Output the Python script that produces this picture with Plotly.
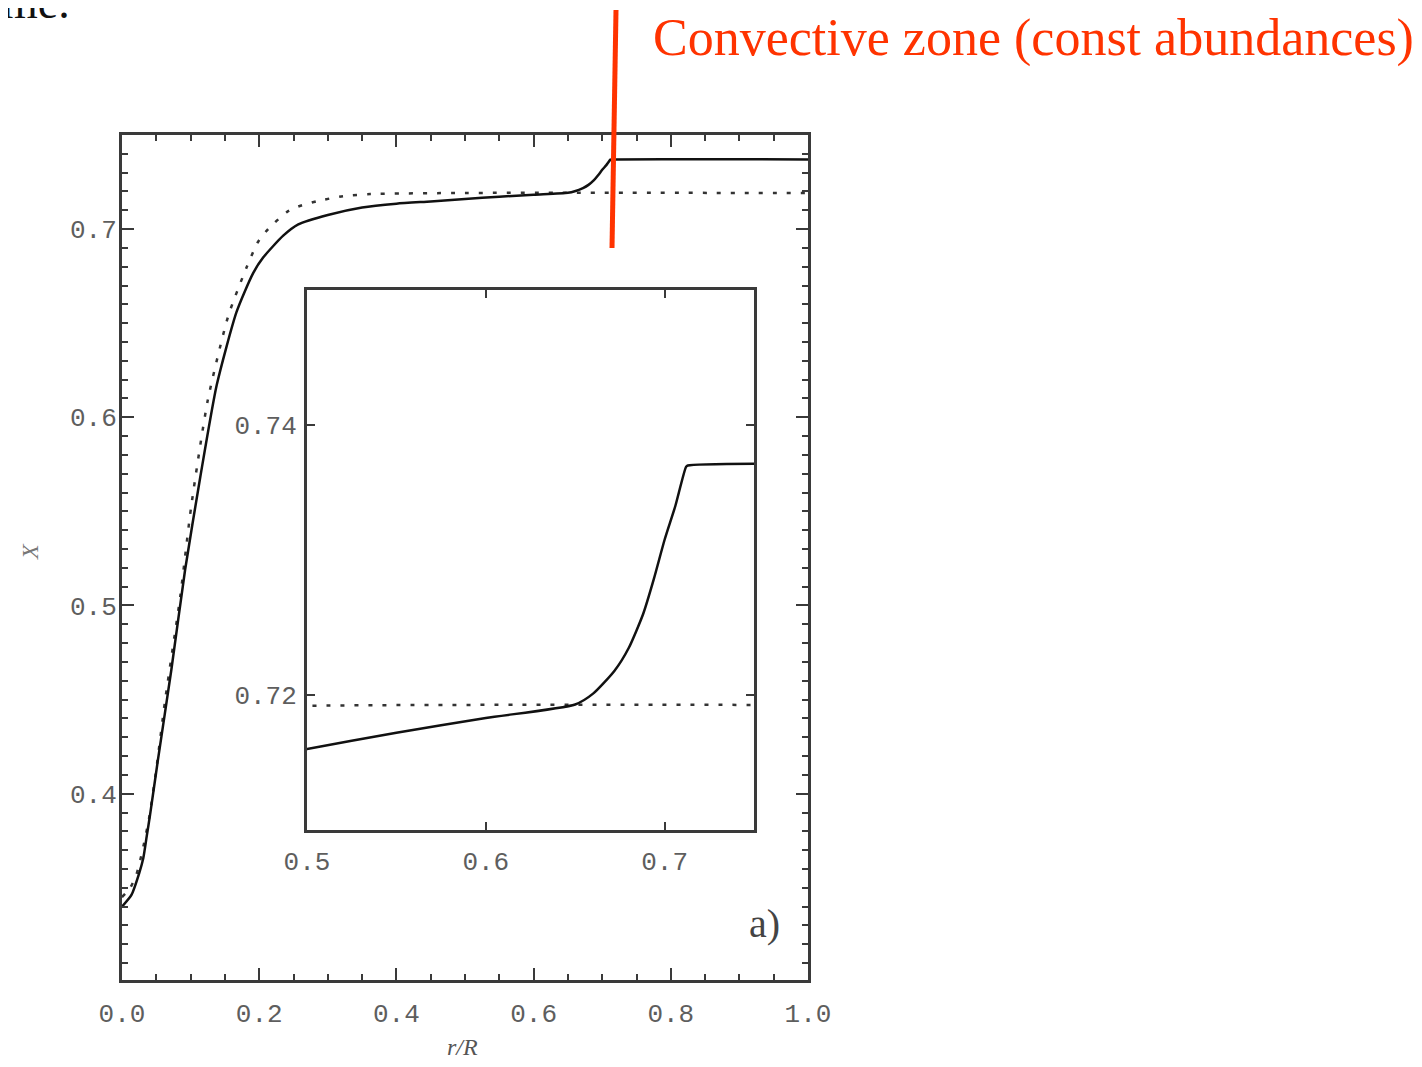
import plotly.graph_objects as go

# ---- data ----
r_solid = [0.0, 0.014, 0.025, 0.031, 0.036, 0.041, 0.052, 0.072, 0.092, 0.114,
           0.138, 0.167, 0.191, 0.206, 0.235, 0.257, 0.30, 0.35, 0.40, 0.45,
           0.50, 0.55, 0.60, 0.65, 0.66, 0.672, 0.68, 0.688, 0.694, 0.70,
           0.706, 0.712, 0.713, 1.0]
x_solid = [0.340, 0.3464, 0.3577, 0.3657, 0.3773, 0.389, 0.417, 0.466, 0.519, 0.568,
           0.617, 0.656, 0.6765, 0.685, 0.6965, 0.7025, 0.7075, 0.7115, 0.7135, 0.7147,
           0.716, 0.7172, 0.7183, 0.7193, 0.7201, 0.7218, 0.7235, 0.726, 0.7286, 0.7315,
           0.734, 0.7369, 0.737, 0.737]

r_dotted = [0.0, 0.012, 0.021, 0.030, 0.040, 0.050, 0.063, 0.085, 0.101, 0.125,
            0.155, 0.182, 0.198, 0.213, 0.240, 0.257, 0.284, 0.322, 0.362, 0.50, 1.0]
x_dotted = [0.345, 0.350, 0.357, 0.370, 0.388, 0.413, 0.450, 0.505, 0.553, 0.609,
            0.654, 0.680, 0.693, 0.700, 0.709, 0.712, 0.7148, 0.7175, 0.7186, 0.7192, 0.7192]

main_xticks = [0.0, 0.2, 0.4, 0.6, 0.8, 1.0]
main_yticks = [0.4, 0.5, 0.6, 0.7]
inset_xticks = [0.5, 0.6, 0.7]
inset_yticks = [0.72, 0.74]

# page is 1422x1067; the figure sits inside the default 8px body margin
OFF = 8
W, H = 1422 - 2 * OFF, 1067 - 2 * OFF
def px(x): return (x - OFF) / W
def py(y): return 1 - (y - OFF) / H

RED = "#ff3300"
FRAME = "#3a3a3a"
TICKFONT = dict(family="Liberation Mono", size=26, color="#5e5e5e")

fig = go.Figure()
for xa, ya in (("x", "y"), ("x2", "y2")):
    fig.add_trace(go.Scatter(x=r_dotted, y=x_dotted, mode="lines", xaxis=xa, yaxis=ya,
                             line=dict(color="#333333", width=2.5, dash="4px,10px",
                                       shape="spline", smoothing=0.6),
                             showlegend=False, hoverinfo="skip"))
    fig.add_trace(go.Scatter(x=r_solid, y=x_solid, mode="lines", xaxis=xa, yaxis=ya,
                             line=dict(color="#111111", width=2.5,
                                       shape="spline", smoothing=0.6),
                             showlegend=False, hoverinfo="skip"))

axis_common = dict(showline=True, linecolor=FRAME, linewidth=3, mirror="ticks",
                   ticks="inside", tickcolor=FRAME, tickwidth=2, showgrid=False,
                   zeroline=False, tickfont=TICKFONT, automargin=False)

fig.update_layout(
    width=W, height=H, margin=dict(l=0, r=0, t=0, b=0, pad=0, autoexpand=False),
    paper_bgcolor="white", plot_bgcolor="white",
    xaxis=dict(domain=[px(122), px(808)], range=[0, 1], tickvals=main_xticks,
               tickformat=".1f", ticklen=12, ticklabelstandoff=8,
               minor=dict(dtick=0.05, tick0=0, ticks="inside", ticklen=6,
                          tickcolor=FRAME, tickwidth=2),
               anchor="y", **axis_common),
    yaxis=dict(domain=[py(980), py(135)], range=[0.301, 0.75], tickvals=main_yticks,
               tickformat=".1f", ticklen=12, ticklabelstandoff=-3,
               minor=dict(dtick=0.01, tick0=0, ticks="inside", ticklen=6,
                          tickcolor=FRAME, tickwidth=2),
               anchor="x", **axis_common),
    xaxis2=dict(domain=[px(307), px(754)], range=[0.5, 0.75], tickvals=inset_xticks,
                tickformat=".1f", ticklen=8, ticklabelstandoff=6, anchor="y2",
                **axis_common),
    yaxis2=dict(domain=[py(830), py(290)], range=[0.71, 0.75], tickvals=inset_yticks,
                tickformat=".2f", ticklen=8, ticklabelstandoff=2, anchor="x2",
                **axis_common),
)

# red marker line for the convective zone
fig.add_shape(type="line", xref="paper", yref="paper",
              x0=px(616), y0=py(10), x1=px(612), y1=py(248),
              line=dict(color=RED, width=5))

fig.add_annotation(text="Convective zone (const abundances)", xref="paper", yref="paper",
                   x=px(651), y=py(38), xanchor="left", yanchor="middle", showarrow=False,
                   font=dict(family="Liberation Serif", size=52, color=RED))

# axis titles
fig.add_annotation(text="<i>X</i>", xref="paper", yref="paper", x=px(30), y=py(552),
                   xanchor="center", yanchor="middle", textangle=-90, showarrow=False,
                   font=dict(family="Liberation Serif", size=24, color="#777777"))
fig.add_annotation(text="<i>r/R</i>", xref="paper", yref="paper", x=px(462), y=py(1047),
                   xanchor="center", yanchor="middle", showarrow=False,
                   font=dict(family="Liberation Serif", size=24, color="#555555"))

# panel label
fig.add_annotation(text="a)", xref="paper", yref="paper", x=px(764), y=py(923),
                   xanchor="center", yanchor="middle", showarrow=False,
                   font=dict(family="Liberation Serif", size=40, color="#444444"))

# clipped slide text at the top-left corner (baseline just below the page top)
fig.add_annotation(text="me.", xref="paper", yref="paper", x=px(72), y=py(30),
                   xanchor="right", yanchor="bottom", showarrow=False,
                   font=dict(family="Liberation Serif", size=46, color="#111111"))

fig.write_html("out.html")
